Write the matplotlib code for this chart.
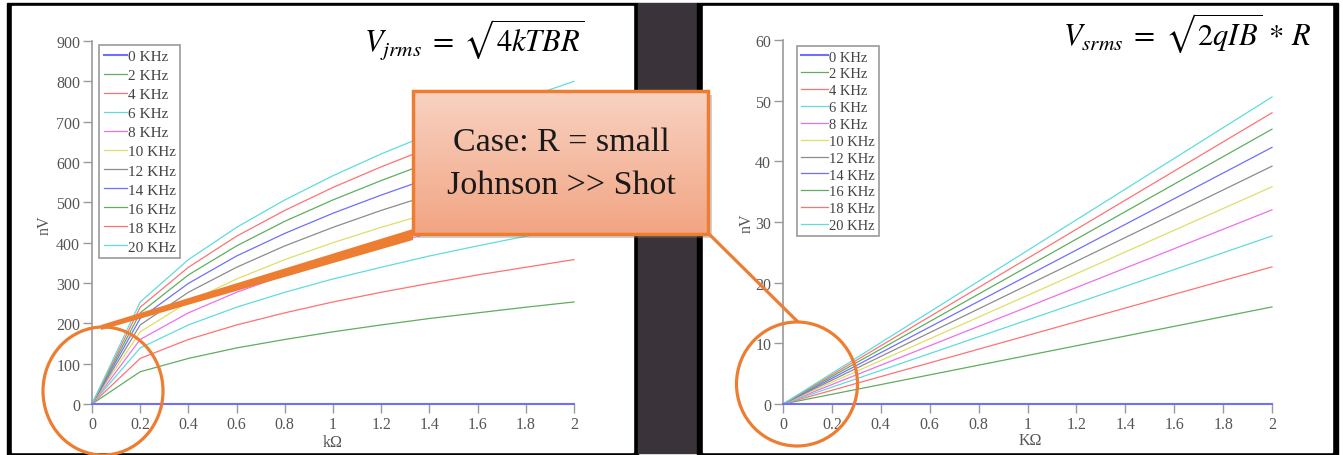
import numpy as np
import matplotlib
matplotlib.use("Agg")
import matplotlib.pyplot as plt
from matplotlib.patches import Rectangle, Ellipse
from matplotlib.colors import LinearSegmentedColormap

plt.rcParams['font.family'] = ['Liberation Serif', 'DejaVu Serif']
plt.rcParams['mathtext.fontset'] = 'stix'

# ---- data ----
freq_labels = ['0 KHz', '2 KHz', '4 KHz', '6 KHz', '8 KHz', '10 KHz',
               '12 KHz', '14 KHz', '16 KHz', '18 KHz', '20 KHz']

# left plot: Johnson noise (nV) against resistance (kOhm)
r_left = [0, 0.2, 0.4, 0.6, 0.8, 1.0, 1.2, 1.4, 1.6, 1.8, 2.0]
johnson_nv = [
    [0, 0, 0, 0, 0, 0, 0, 0, 0, 0, 0],
    [0, 80, 113, 139, 160, 179, 196, 212, 226, 240, 253],
    [0, 113, 160, 196, 226, 253, 277, 299, 320, 339, 358],
    [0, 139, 196, 240, 277, 310, 339, 367, 392, 416, 438],
    [0, 160, 226, 277, 320, 358, 392, 423, 453, 480, 506],
    [0, 179, 253, 310, 358, 400, 438, 473, 506, 537, 566],
    [0, 196, 277, 339, 392, 438, 480, 518, 554, 588, 620],
    [0, 212, 299, 367, 423, 473, 518, 560, 599, 635, 669],
    [0, 226, 320, 392, 453, 506, 554, 599, 640, 679, 716],
    [0, 240, 339, 416, 480, 537, 588, 635, 679, 720, 759],
    [0, 253, 358, 438, 506, 566, 620, 669, 716, 759, 800],
]

# right plot: shot noise (nV) against resistance (kOhm), straight lines
r_right = [0.0, 2.0]
shot_nv = [
    [0, 0], [0, 16.0], [0, 22.6], [0, 27.7], [0, 32.0], [0, 35.8],
    [0, 39.2], [0, 42.3], [0, 45.3], [0, 48.0], [0, 50.6],
]

x_ticks = [0, 0.2, 0.4, 0.6, 0.8, 1.0, 1.2, 1.4, 1.6, 1.8, 2.0]
x_tick_labels = ['0', '0.2', '0.4', '0.6', '0.8', '1', '1.2', '1.4', '1.6', '1.8', '2']
y_ticks_left = [0, 100, 200, 300, 400, 500, 600, 700, 800, 900]
y_ticks_right = [0, 10, 20, 30, 40, 50, 60]

colors = ['#6f6fff', '#5fae5f', '#ff7272', '#5fdcdc', '#ee6fee', '#dede6a',
          '#8c8c8c', '#6f6fff', '#5fae5f', '#ff7272', '#5fdcdc']

orange = '#ed7d31'
W, H = 1343, 456

fig = plt.figure(figsize=(W / 100, H / 100), dpi=100)
fig.patch.set_facecolor('white')

# background: two framed panels with a dark strip between
bg = fig.add_axes([0, 0, 1, 1], zorder=0)
bg.set_xlim(0, W)
bg.set_ylim(H, 0)
bg.axis('off')
bg.add_patch(Rectangle((7, 4), 631, 452, color='black'))
bg.add_patch(Rectangle((12, 7), 621, 446, color='white'))
bg.add_patch(Rectangle((638, 4), 59, 450, color='#3a343a'))
bg.add_patch(Rectangle((697, 4), 641, 452, color='black'))
bg.add_patch(Rectangle((703, 7), 629, 446, color='white'))


def style_axes(ax, yticks, ymax):
    ax.set_facecolor('none')
    ax.set_xlim(0, 2)
    ax.set_ylim(0, ymax)
    ax.set_xticks(x_ticks)
    ax.set_xticklabels(x_tick_labels)
    ax.set_yticks(yticks)
    for s in ['top', 'right']:
        ax.spines[s].set_visible(False)
    for s in ['left', 'bottom']:
        ax.spines[s].set_color('#9a9a9a')
        ax.spines[s].set_linewidth(1.2)
    ax.tick_params(direction='out', length=6.5, width=1, color='#9a9a9a',
                   labelcolor='#555555', labelsize=11.5, pad=2)


def draw_lines(ax, xs, series):
    for i, (vals, c, lab) in enumerate(zip(series, colors, freq_labels)):
        ax.plot(xs, vals, color=c, lw=1.5 if i == 0 else 0.9, label=lab,
                clip_on=False, zorder=3 if i == 0 else 2)


# left chart
axL = fig.add_axes([92 / W, 1 - 405 / H, (574 - 92) / W, (405 - 42) / H], zorder=1)
draw_lines(axL, r_left, johnson_nv)
style_axes(axL, y_ticks_left, 900)
axL.set_ylabel('nV', fontsize=11.5, color='#555555')
axL.yaxis.set_label_coords(-0.082, 0.496)
axL.set_xlabel('k\u03a9', fontsize=11.5, color='#555555')
axL.xaxis.set_label_coords(0.5, -0.082)
legL = axL.legend(loc='upper left', bbox_to_anchor=(99 / W, 1 - 46 / H),
                  bbox_transform=fig.transFigure, borderaxespad=0, fancybox=False,
                  edgecolor='#999999', framealpha=1, fontsize=11, handlelength=1.5,
                  handletextpad=0.1, labelspacing=0.35, borderpad=0.3)
legL.get_frame().set_linewidth(1.2)
for t in legL.get_texts():
    t.set_color('#444444')

# right chart
axR = fig.add_axes([783 / W, 1 - 405 / H, (1272 - 783) / W, (405 - 41) / H], zorder=1)
draw_lines(axR, r_right, shot_nv)
style_axes(axR, y_ticks_right, 60)
axR.set_ylabel('nV', fontsize=11.5, color='#555555')
axR.yaxis.set_label_coords(-0.058, 0.5)
axR.set_xlabel('K\u03a9', fontsize=11.5, color='#555555')
axR.xaxis.set_label_coords(0.505, -0.078)
legR = axR.legend(loc='upper left', bbox_to_anchor=(797 / W, 1 - 47 / H),
                  bbox_transform=fig.transFigure, borderaxespad=0, fancybox=False,
                  edgecolor='#999999', framealpha=1, fontsize=10.5, handlelength=1.8,
                  handletextpad=0.1, labelspacing=0.25, borderpad=0.3)
legR.get_frame().set_linewidth(1.2)
for t in legR.get_texts():
    t.set_color('#444444')

# overlay: formulas, callout box, circles
ov = fig.add_axes([0, 0, 1, 1], zorder=3)
ov.set_facecolor('none')

ov.text(585, 52, r'$V_{jrms}\;=\;\sqrt{4kTBR}$', ha='right', va='baseline',
        fontsize=22, color='black')
ov.text(1312, 45, r'$V_{srms}\;=\;\sqrt{2qIB}\,*\,R$', ha='right', va='baseline',
        fontsize=22, color='black')

# pointers and circles
ov.fill([413, 413, 101, 101], [230, 241, 331, 326], color=orange, lw=0)
ov.plot([708, 798], [234, 323], color=orange, lw=2.3, solid_capstyle='butt')
ov.add_patch(Ellipse((103, 392), 120, 128, fill=False, ec=orange, lw=2.3))
ov.add_patch(Ellipse((797, 385), 121, 124, fill=False, ec=orange, lw=2.3))

# callout box
ov.add_patch(Rectangle((417, 96), 295, 143, color='#7a7a7a', alpha=0.35, lw=0))
grad = np.linspace(0, 1, 256).reshape(-1, 1)
cmap = LinearSegmentedColormap.from_list('box', ['#f8d2c2', '#f2a583'])
ov.imshow(grad, extent=(413, 708, 235, 92), aspect='auto', cmap=cmap, zorder=2)
ov.add_patch(Rectangle((413, 92), 295, 143, fill=False, ec=orange, lw=2.5, zorder=3))
ov.text(561, 143, 'Case: R = small', ha='center', va='center', fontsize=24.5,
        color='#1a1a1a', zorder=4)
ov.text(561, 186, 'Johnson >> Shot', ha='center', va='center', fontsize=24.5,
        color='#1a1a1a', zorder=4)

ov.set_xlim(0, W)
ov.set_ylim(H, 0)
ov.axis('off')

fig.savefig('out.png', dpi=100)
